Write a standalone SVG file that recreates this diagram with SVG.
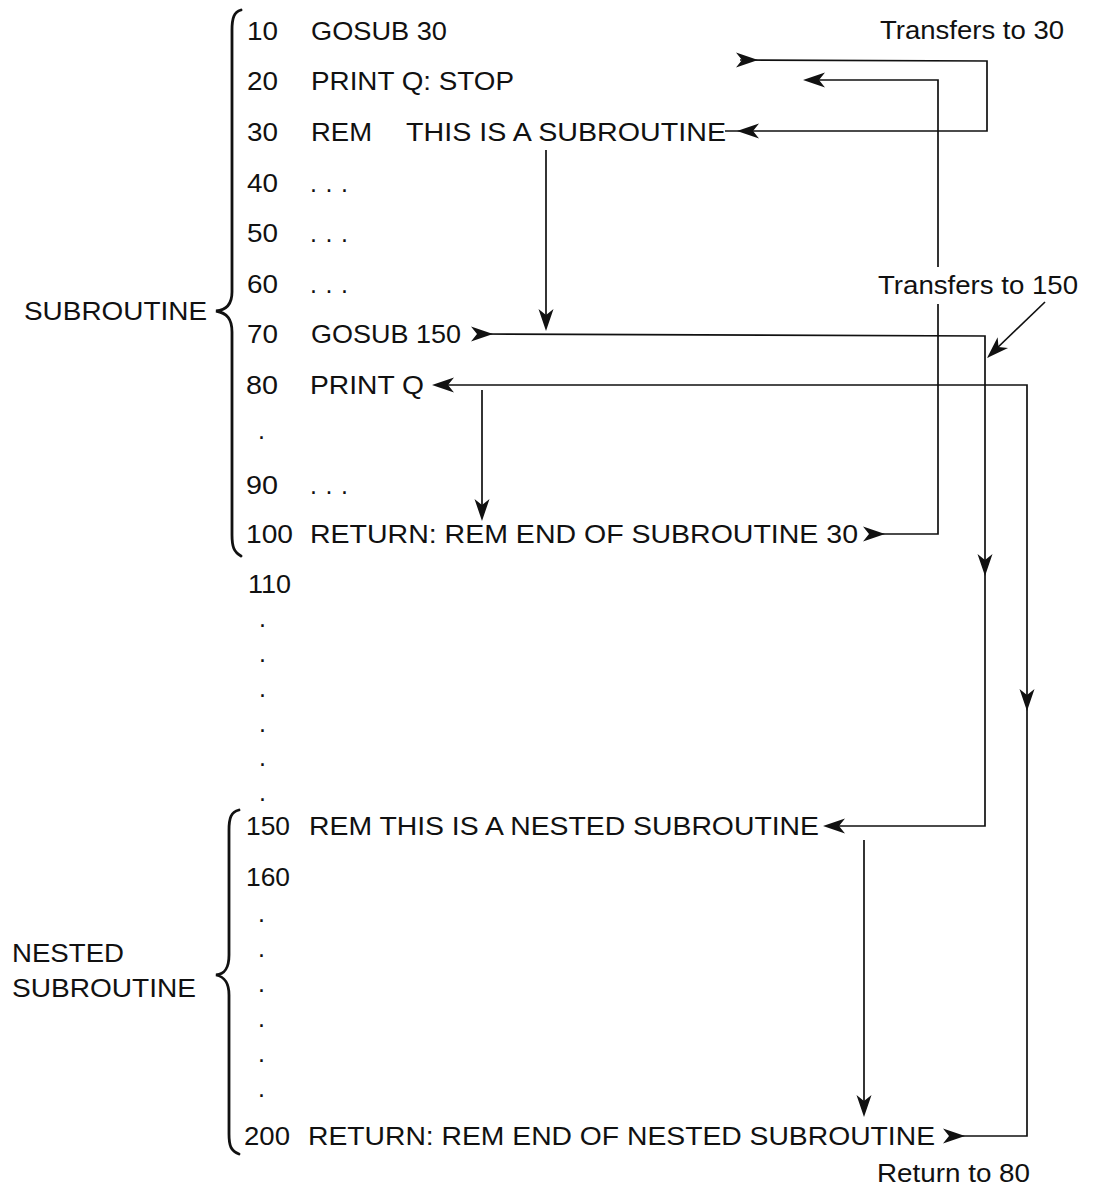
<svg xmlns="http://www.w3.org/2000/svg" xmlns:xlink="http://www.w3.org/1999/xlink" width="1100" height="1186" viewBox="0 0 1100 1186">
<style>
.t{font-family:"Liberation Sans",Arial,Helvetica,sans-serif;font-size:25px;fill:#111}
.l{font-family:"Liberation Sans",Arial,Helvetica,sans-serif;font-size:25px;fill:#111}
.c{fill:none;stroke:#111;stroke-width:1.7}
.b{fill:none;stroke:#111;stroke-width:2.8;stroke-linecap:round}
.ah{fill:#111}
</style>
<defs>
<path id="ah" d="M0,0 L-22,-7.5 L-16,0 L-22,7.5 Z"/>
</defs>
<rect width="1100" height="1186" fill="#fff"/>

<g id="braces">
<path class="b" d="M241,10 C234,12 232,18 232,30 L232,292 C232,304 227,310 216,311 C227,313 232,319 232,332 L232,535 C232,547 234,552 241,556"/>
<path class="b" d="M239,810 C231,812 229,818 229,830 L229,955 C229,968 225,974 216,975 C225,977 229,983 229,995 L229,1134 C229,1146 231,1151 239,1154"/>
</g>

<g id="labels">
<text class="t" x="24" y="320" textLength="183" lengthAdjust="spacingAndGlyphs">SUBROUTINE</text>
<text class="t" x="12" y="962" textLength="112" lengthAdjust="spacingAndGlyphs">NESTED</text>
<text class="t" x="12" y="997" textLength="184" lengthAdjust="spacingAndGlyphs">SUBROUTINE</text>
<text class="l" x="880" y="39" textLength="184" lengthAdjust="spacingAndGlyphs">Transfers to 30</text>
<text class="l" x="878" y="294" textLength="200" lengthAdjust="spacingAndGlyphs">Transfers to 150</text>
<text class="l" x="877" y="1182" textLength="153" lengthAdjust="spacingAndGlyphs">Return to 80</text>
</g>

<g id="line10"><text class="t" x="247" y="40" textLength="31" lengthAdjust="spacingAndGlyphs">10</text><text class="t" x="311" y="40" textLength="136" lengthAdjust="spacingAndGlyphs">GOSUB 30</text></g>
<g id="line20"><text class="t" x="247" y="90" textLength="31" lengthAdjust="spacingAndGlyphs">20</text><text class="t" x="311" y="90" textLength="203" lengthAdjust="spacingAndGlyphs">PRINT Q: STOP</text></g>
<g id="line30"><text class="t" x="247" y="141" textLength="31" lengthAdjust="spacingAndGlyphs">30</text><text class="t" x="311" y="141" textLength="61" lengthAdjust="spacingAndGlyphs">REM</text><text class="t" x="406" y="141" textLength="320" lengthAdjust="spacingAndGlyphs">THIS IS A SUBROUTINE</text></g>
<g id="line40"><text class="t" x="247" y="192" textLength="31" lengthAdjust="spacingAndGlyphs">40</text><text class="t" x="310" y="192" textLength="38" lengthAdjust="spacing">...</text></g>
<g id="line50"><text class="t" x="247" y="242" textLength="31" lengthAdjust="spacingAndGlyphs">50</text><text class="t" x="310" y="242" textLength="38" lengthAdjust="spacing">...</text></g>
<g id="line60"><text class="t" x="247" y="293" textLength="31" lengthAdjust="spacingAndGlyphs">60</text><text class="t" x="310" y="293" textLength="38" lengthAdjust="spacing">...</text></g>
<g id="line70"><text class="t" x="247" y="343" textLength="31" lengthAdjust="spacingAndGlyphs">70</text><text class="t" x="311" y="343" textLength="150" lengthAdjust="spacingAndGlyphs">GOSUB 150</text></g>
<g id="line80"><text class="t" x="246" y="394" textLength="32" lengthAdjust="spacingAndGlyphs">80</text><text class="t" x="310" y="394" textLength="114" lengthAdjust="spacingAndGlyphs">PRINT Q</text></g>
<g id="dot85"><text class="t" x="258" y="439">.</text></g>
<g id="line90"><text class="t" x="246" y="494" textLength="32" lengthAdjust="spacingAndGlyphs">90</text><text class="t" x="310" y="494" textLength="38" lengthAdjust="spacing">...</text></g>
<g id="line100"><text class="t" x="246" y="543" textLength="47" lengthAdjust="spacingAndGlyphs">100</text><text class="t" x="310" y="543" textLength="548" lengthAdjust="spacingAndGlyphs">RETURN: REM END OF SUBROUTINE 30</text></g>
<g id="line110"><text class="t" x="248" y="593" textLength="43" lengthAdjust="spacingAndGlyphs">110</text></g>
<g id="dots110">
<text class="t" x="259" y="627">.</text>
<text class="t" x="259" y="662">.</text>
<text class="t" x="259" y="697">.</text>
<text class="t" x="259" y="732">.</text>
<text class="t" x="259" y="766">.</text>
<text class="t" x="259" y="801">.</text>
</g>
<g id="line150"><text class="t" x="246" y="835" textLength="44" lengthAdjust="spacingAndGlyphs">150</text><text class="t" x="309" y="835" textLength="510" lengthAdjust="spacingAndGlyphs">REM THIS IS A NESTED SUBROUTINE</text></g>
<g id="line160"><text class="t" x="246" y="886" textLength="44" lengthAdjust="spacingAndGlyphs">160</text></g>
<g id="dots160">
<text class="t" x="258" y="922">.</text>
<text class="t" x="258" y="957">.</text>
<text class="t" x="258" y="992">.</text>
<text class="t" x="258" y="1027">.</text>
<text class="t" x="258" y="1062">.</text>
<text class="t" x="258" y="1097">.</text>
</g>
<g id="line200"><text class="t" x="244" y="1145" textLength="46" lengthAdjust="spacingAndGlyphs">200</text><text class="t" x="308" y="1145" textLength="627" lengthAdjust="spacingAndGlyphs">RETURN: REM END OF NESTED SUBROUTINE</text></g>

<g id="connectors">
<!-- 10 -> 30 -->
<path class="c" d="M740,60 L987,61 L987,131 L725,131"/>
<use href="#ah" class="ah" transform="translate(758,60)"/>
<use href="#ah" class="ah" transform="translate(737,131) rotate(180)"/>
<!-- 100 -> 20 -->
<path class="c" d="M870,534 L938,534 L938,304"/>
<path class="c" d="M938,267 L938,80 L812,80"/>
<use href="#ah" class="ah" transform="translate(885,534)"/>
<use href="#ah" class="ah" transform="translate(803,80) rotate(180)"/>
<!-- 30 flow down to 70 -->
<path class="c" d="M546,150 L546,320"/>
<use href="#ah" class="ah" transform="translate(546,331) rotate(90)"/>
<!-- 70 -> 150 -->
<path class="c" d="M480,334 L985,336 L985,826 L835,826"/>
<use href="#ah" class="ah" transform="translate(493,334)"/>
<use href="#ah" class="ah" transform="translate(985,576) rotate(90)"/>
<use href="#ah" class="ah" transform="translate(823,826) rotate(180)"/>
<!-- Transfers to 150 pointer -->
<path class="c" d="M1045,302 L994,351"/>
<use href="#ah" class="ah" transform="translate(987,358) rotate(136)"/>
<!-- 80 flow down to 100 -->
<path class="c" d="M482,390 L482,510"/>
<use href="#ah" class="ah" transform="translate(482,521) rotate(90)"/>
<!-- 200 -> 80 -->
<path class="c" d="M950,1136 L1027,1136 L1027,385 L440,385"/>
<use href="#ah" class="ah" transform="translate(965,1136)"/>
<use href="#ah" class="ah" transform="translate(1027,711) rotate(90)"/>
<use href="#ah" class="ah" transform="translate(432,385) rotate(180)"/>
<!-- 150 flow down to 200 -->
<path class="c" d="M864,840 L864,1104"/>
<use href="#ah" class="ah" transform="translate(864,1117) rotate(90)"/>
</g>
</svg>
